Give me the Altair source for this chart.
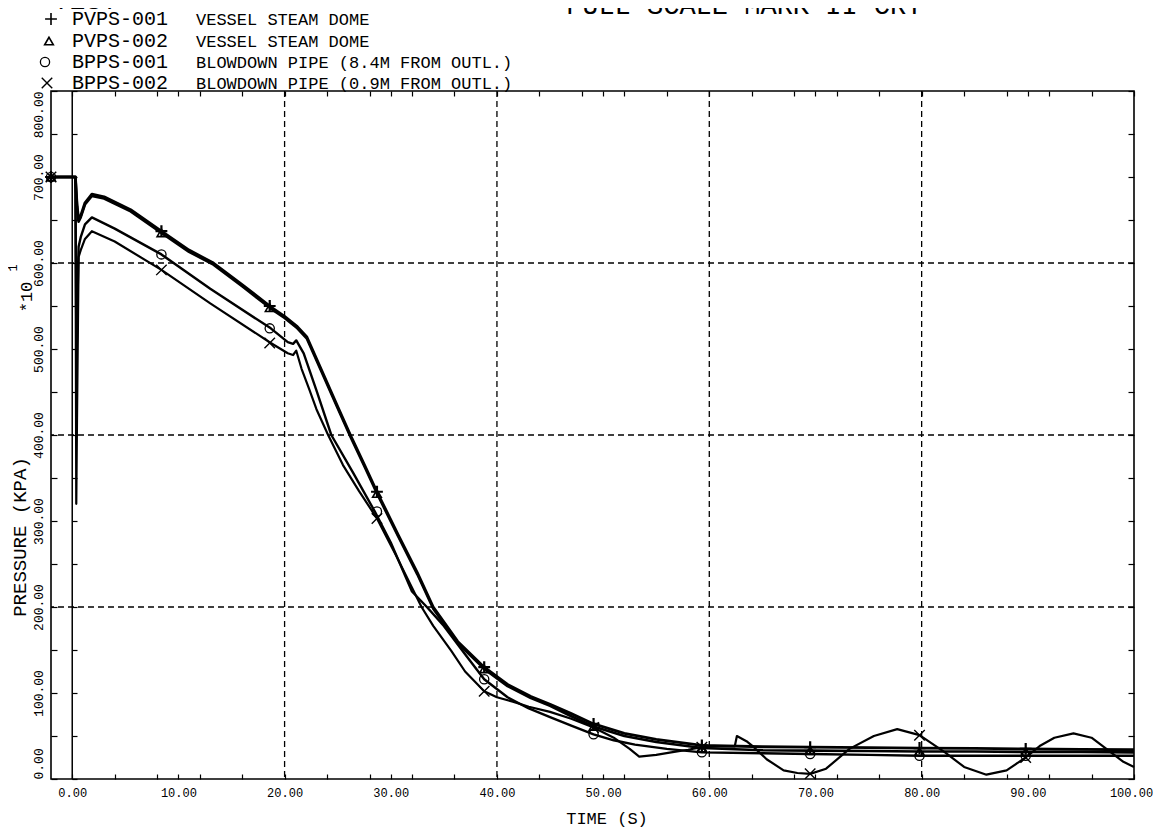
import altair as alt
import pandas as pd

FONT = "Liberation Mono"

NAMES = ["PVPS-001", "PVPS-002", "BPPS-001", "BPPS-002"]
DESCS = ["VESSEL STEAM DOME", "VESSEL STEAM DOME",
         "BLOWDOWN PIPE (8.4M FROM OUTL.)", "BLOWDOWN PIPE (0.9M FROM OUTL.)"]

# ---- series (time s, pressure in 10 kPa) ----
T_PV = [-2, 0.3, 0.45, 0.6, 0.8, 1.2, 1.85, 3, 5.5, 8.4, 11, 13.3, 16, 18.7, 20, 21.2, 22.1,
        23.5, 25, 26.2, 27.5, 28.7, 30.7, 32.5, 34, 36.3, 38.8, 41, 43.2, 45, 47, 49.1, 52, 55,
        59.3, 65, 69.5, 75, 79.8, 85, 89.8, 95, 100]
P_PV1 = [700, 700, 668, 650, 655, 670, 680, 677, 662, 637, 615, 600, 575, 549, 538, 526, 514,
         475, 433, 400, 366, 334, 284, 240, 200, 160, 130, 110, 96, 87, 76, 64, 53, 46,
         39, 37.5, 37, 36.5, 36, 35.5, 35, 34.5, 34]
P_PV2 = [700, 700, 666, 648, 653, 668, 678, 675, 660, 635, 613, 598, 573, 547, 536, 524, 512,
         473, 431, 398, 364, 332, 282, 238, 198, 158, 128, 108, 94, 85, 73, 61, 50, 43,
         36, 33.5, 33, 32.5, 32, 32, 31.5, 31.5, 31]

T_BP1 = [-2, 0.3, 0.4, 0.5, 0.6, 0.8, 1.2, 1.85, 4, 8.4, 13, 18.7, 20.3, 20.8, 21.1, 21.8, 23,
         24.4, 26.5, 28.5, 30, 32, 33.4, 35, 37, 38.8, 41, 43, 45, 47, 49.1, 51, 53, 56, 59.3,
         65, 69.5, 75, 79.8, 85, 89.8, 95, 100]
P_BP1 = [700, 700, 480, 560, 619, 630, 645, 653, 640, 610, 570, 524, 508, 506, 510, 495, 452,
         400, 355, 311, 275, 218, 200, 178, 145, 116, 95, 82, 72, 62, 52, 45, 40, 35, 31,
         30, 29, 28, 27, 27, 27, 27, 27]

T_BP2 = [-2, 0.3, 0.38, 0.45, 0.6, 0.8, 1.2, 1.85, 4, 8.4, 13, 18.7, 20.3, 20.8, 21.1, 21.6,
         22.3, 23, 24.1, 25.5, 27, 28.7, 30.5, 32.9, 34, 35.7, 37, 38.8, 40, 41.5, 43, 45, 47,
         49.1, 51, 52.5, 53.4, 55, 56.4, 58, 59.3, 61, 62.4, 62.6, 63.5, 64.2, 65.4, 67, 68.3,
         69.5, 71, 73.2, 75.5, 77.7, 79.8, 82.2, 84, 86.1, 88, 89.8, 91.2, 92.5, 94.3, 96,
         97.4, 99, 100]
P_BP2 = [700, 700, 320, 420, 607, 615, 628, 637, 625, 592, 553, 507, 495, 493, 498, 477,
         454, 430, 400, 365, 335, 303, 260, 200, 178, 149, 125, 102, 95, 90, 84, 78, 70,
         60, 48, 35, 26, 28, 31, 34, 37, 38, 38, 50, 44, 37, 23, 10, 7,
         6, 12, 35, 50, 58, 51, 31, 14, 5, 10, 25, 39, 48, 53, 48,
         35, 20, 14]

# ---- plotted symbols ----
MARK_T = [-2, 8.4, 18.6, 28.7, 38.8, 49.1, 59.3, 69.5, 79.8, 89.8]
M_PV1 = [700, 637, 550, 334, 130, 64, 39, 37, 36, 35]
M_PV2 = [700, 635, 548, 332, 128, 61, 36, 33, 32, 31.5]
M_BP1 = [700, 610, 524, 311, 116, 52, 31, 29, 27, 27]
M_BP2 = [700, 592, 507, 303, 102, 60, 37, 6, 51, 25]

X_GRID = [20, 40, 60, 80]
Y_GRID = [200, 400, 600]
ZERO_LINE = [0]
X_TICKS = sorted(set(range(0, 101, 4)) | set(range(0, 101, 10)))
Y_TICKS = list(range(0, 801, 50))
X_DOMAIN = [-2, 100]
Y_DOMAIN = [0, 800]

PLUS = "M-1,0L1,0M0,-1L0,1"
XMARK = "M-1,-1L1,1M-1,1L1,-1"
SHAPES = [PLUS, "triangle-up", "circle", XMARK]
SIZES = [140, 75, 85, 110]
SWIDTH = [2.2, 1.6, 1.3, 1.4]
LWIDTH = [2.8, 2.2, 1.2, 1.2]

XS = alt.Scale(domain=X_DOMAIN, nice=False, zero=False)
YS = alt.Scale(domain=Y_DOMAIN, nice=False, zero=False)

lines_df = pd.concat([
    pd.DataFrame({"s": n, "t": t, "p": p, "i": list(range(len(t)))})
    for n, t, p in zip(NAMES, [T_PV, T_PV, T_BP1, T_BP2], [P_PV1, P_PV2, P_BP1, P_BP2])
], ignore_index=True)

marks_dfs = [pd.DataFrame({"t": MARK_T, "p": m}) for m in [M_PV1, M_PV2, M_BP1, M_BP2]]

bottom_axis = alt.Axis(orient="bottom", values=X_TICKS,
                       labelExpr="datum.value % 10 == 0 ? format(datum.value, '.2f') : ''",
                       offset=-5, tickSize=5, tickWidth=1.2, tickColor="black", domain=False,
                       grid=False, labelPadding=8, labelFont=FONT, labelFontSize=12,
                       labelColor="black", labelFlush=False, labelBaseline="top",
                       labelOffset={"condition": {"test": "datum.value == 100", "value": -3},
                                    "value": 0},
                       labelOverlap=False, title="")
left_axis = alt.Axis(orient="left", values=Y_TICKS,
                     labelExpr="datum.value % 100 == 0 ? format(datum.value, '.2f') : ''",
                     offset=-6, tickSize=6, tickWidth=1.2, tickColor="black", domain=False,
                     grid=False, labelPadding=6, labelFont=FONT, labelFontSize=13,
                     labelColor="black", labelAngle=270,
                     labelAlign={"condition": [{"test": "datum.value == 0", "value": "left"},
                                               {"test": "datum.value == 800", "value": "right"}],
                                 "value": "center"},
                     labelBaseline="bottom", labelOverlap=False, title="")
right_axis = alt.Axis(orient="right", values=Y_TICKS, offset=-6, tickSize=6, tickWidth=1.2,
                      tickColor="black", domain=False, grid=False, labels=False, title="")
top_axis = alt.Axis(orient="top", values=X_TICKS, offset=-5, tickSize=5, tickWidth=1.2,
                    tickColor="black", domain=False, grid=False, labels=False, title="")
zero_axis = alt.Axis(orient="left", values=Y_TICKS, offset=-26, tickSize=5, tickWidth=1.2,
                     tickColor="black", domain=False, grid=False, labels=False, title="")

layers = []

layers.append(alt.Chart(pd.DataFrame({"v": Y_GRID})).mark_rule(
    color="black", strokeWidth=1.3, strokeDash=[6, 4]).encode(
    y=alt.Y("v:Q", scale=YS, axis=right_axis)))
layers.append(alt.Chart(pd.DataFrame({"v": X_GRID})).mark_rule(
    color="black", strokeWidth=1.3, strokeDash=[6, 4]).encode(
    x=alt.X("v:Q", scale=XS, axis=top_axis)))
layers.append(alt.Chart(pd.DataFrame({"v": ZERO_LINE})).mark_rule(
    color="black", strokeWidth=1.5).encode(
    x=alt.X("v:Q", scale=XS, axis=None)))

layers.append(alt.Chart(lines_df).mark_line(color="black", strokeJoin="round").encode(
    x=alt.X("t:Q", scale=XS, axis=bottom_axis),
    y=alt.Y("p:Q", scale=YS, axis=left_axis),
    strokeWidth=alt.StrokeWidth("s:N", scale=alt.Scale(domain=NAMES, range=LWIDTH), legend=None),
    order="i:Q"))

for k, mdf in enumerate(marks_dfs):
    yaxis = zero_axis if k == 0 else None
    layers.append(alt.Chart(mdf).mark_point(
        shape=SHAPES[k], size=SIZES[k], filled=False, color="black",
        strokeWidth=SWIDTH[k], opacity=1).encode(
        x=alt.X("t:Q", scale=XS, axis=None),
        y=alt.Y("p:Q", scale=YS, axis=yaxis)))

ONE = pd.DataFrame({"k": [0]})


def text(txt, x, y, size, angle=0, align="left", baseline="middle"):
    kw = dict(text=txt, font=FONT, fontSize=size, align=align, baseline=baseline, color="black")
    if angle:
        kw["angle"] = angle
    return alt.Chart(ONE).mark_text(**kw).encode(x=alt.value(x), y=alt.value(y))


# legend block above the plot
ROW_Y = [-72, -50, -29, -8]
SYM_X = [0, -2, -6, -4]
for k in range(4):
    layers.append(alt.Chart(ONE).mark_point(
        shape=SHAPES[k], size=SIZES[k], filled=False, color="black",
        strokeWidth=min(SWIDTH[k], 1.6), opacity=1).encode(
        x=alt.value(SYM_X[k]), y=alt.value(ROW_Y[k])))
    layers.append(text(NAMES[k], 21, ROW_Y[k], 20))
    layers.append(text(DESCS[k], 145, ROW_Y[k] + 1, 17))

# partially cut-off heading at the very top
layers.append(text("TEST", 2, -82, 27, baseline="alphabetic"))
layers.append(text("FULL SCALE MARK II CRT", 515, -77, 27, baseline="alphabetic"))

# axis titles
layers.append(text("PRESSURE (KPA)", -31, 446, 19, angle=270, align="center"))
layers.append(text("*10", -24, 206, 17, angle=270, align="center"))
layers.append(text("1", -38, 177, 12, angle=270, align="center"))
layers.append(text("TIME (S)", 556, 733, 17, align="center", baseline="alphabetic"))

chart = alt.layer(*layers).resolve_axis(x="independent", y="independent").properties(
    width=1083, height=688,
    padding={"left": 43, "top": 83, "right": 19, "bottom": 50},
    autosize=alt.AutoSizeParams(type="none"),
    background="white",
).configure_view(stroke="black", strokeWidth=1.6)

chart.save("out.html", embed_options={"renderer": "svg", "actions": False})
